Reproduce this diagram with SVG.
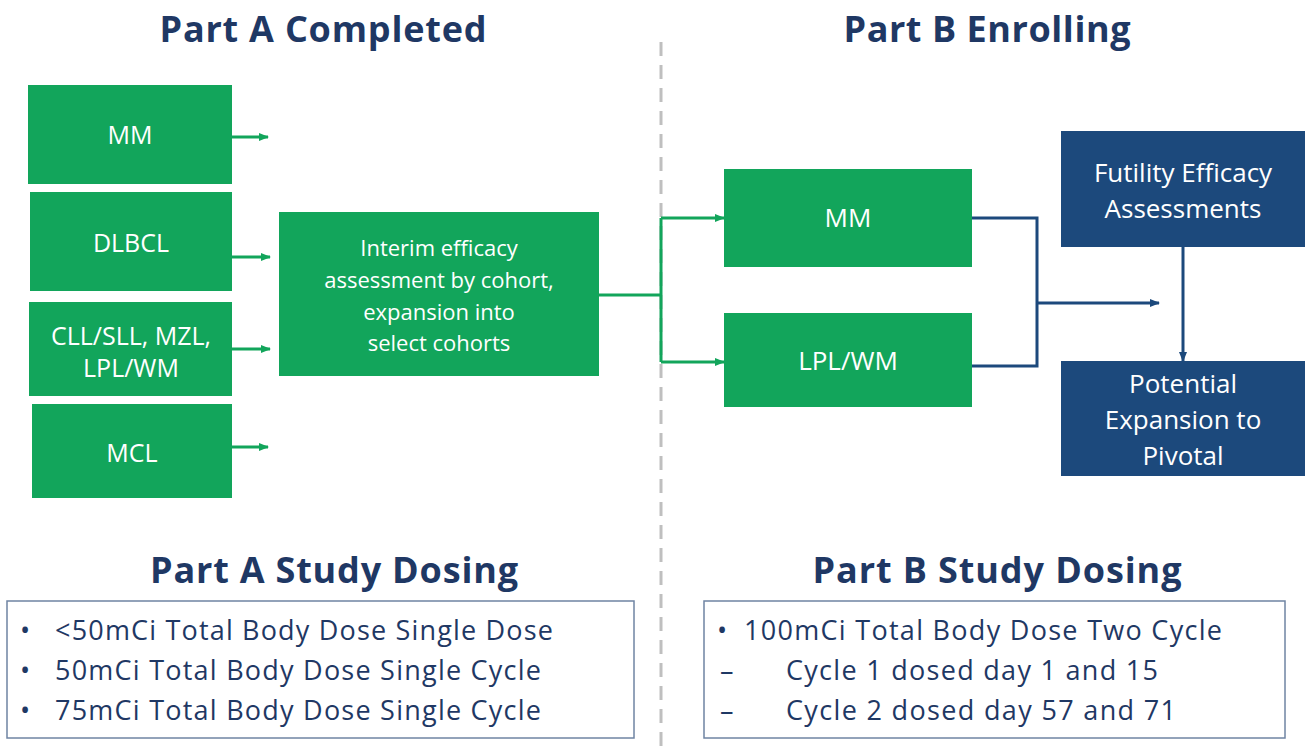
<svg xmlns="http://www.w3.org/2000/svg" width="1306" height="755" viewBox="0 0 1306 755">
<style>
.title{font-family:"Open Sans","Liberation Sans",sans-serif;font-weight:bold;font-size:36px;fill:#1f3864;text-anchor:middle}
.g{fill:#12a55b}
.b{fill:#1c497c}
.t{font-family:"Open Sans","Liberation Sans",sans-serif;fill:#ffffff;text-anchor:middle}
.dose{font-family:"Open Sans","Liberation Sans",sans-serif;font-size:27px;fill:#1f3864}
.gl{stroke:#12a55b;stroke-width:3;fill:none}
.bl{stroke:#1c497c;stroke-width:3;fill:none}
.box{fill:#ffffff;stroke:#6f84a3;stroke-width:1.5}
</style>
<defs>
<marker id="ag" markerWidth="10" markerHeight="10" refX="9" refY="5" orient="auto" markerUnits="userSpaceOnUse"><path d="M0,1 L10,5 L0,9 Z" fill="#12a55b"/></marker>
<marker id="ab" markerWidth="10" markerHeight="10" refX="9" refY="5" orient="auto" markerUnits="userSpaceOnUse"><path d="M0,1 L10,5 L0,9 Z" fill="#1c497c"/></marker>
</defs>
<rect width="1306" height="755" fill="#ffffff"/>
<line x1="661" y1="42" x2="661" y2="755" stroke="#bfbfbf" stroke-width="3" stroke-dasharray="14,9"/>
<text class="title" x="323" y="42" textLength="327">Part A Completed</text>
<text class="title" x="987" y="42" textLength="287">Part B Enrolling</text>
<text class="title" x="334" y="583" textLength="368">Part A Study Dosing</text>
<text class="title" x="997" y="583" textLength="369">Part B Study Dosing</text>

<g id="connectors">
<line class="gl" x1="232" y1="137" x2="268" y2="137" marker-end="url(#ag)"/>
<line class="gl" x1="232" y1="257" x2="270" y2="257" marker-end="url(#ag)"/>
<line class="gl" x1="232" y1="349" x2="270" y2="349" marker-end="url(#ag)"/>
<line class="gl" x1="232" y1="447" x2="268" y2="447" marker-end="url(#ag)"/>
<polyline class="gl" points="599,295 661,295"/>
<polyline class="gl" points="661,218 661,362"/>
<line class="gl" x1="661" y1="218" x2="724" y2="218" marker-end="url(#ag)"/>
<line class="gl" x1="661" y1="362" x2="724" y2="362" marker-end="url(#ag)"/>
<polyline class="bl" points="972,218 1037,218 1037,366 972,366"/>
<line class="bl" x1="1037" y1="303" x2="1159" y2="303" marker-end="url(#ab)"/>
<line class="bl" x1="1183" y1="247" x2="1183" y2="361" marker-end="url(#ab)"/>
</g>

<g id="a-mm"><rect class="g" x="28" y="85" width="204" height="99"/><text class="t" x="130" y="144" font-size="25">MM</text></g>
<g id="a-dlbcl"><rect class="g" x="30" y="192" width="202" height="99"/><text class="t" x="131" y="252" font-size="25">DLBCL</text></g>
<g id="a-cll"><rect class="g" x="29" y="302" width="203" height="94"/><text class="t" x="131" y="345" font-size="25">CLL/SLL, MZL,</text><text class="t" x="131" y="377" font-size="25">LPL/WM</text></g>
<g id="a-mcl"><rect class="g" x="32" y="404" width="200" height="94"/><text class="t" x="132" y="462" font-size="25">MCL</text></g>
<g id="interim"><rect class="g" x="279" y="212" width="320" height="164"/>
<text class="t" x="439" y="256" font-size="22">Interim efficacy</text>
<text class="t" x="439" y="288" font-size="22">assessment by cohort,</text>
<text class="t" x="439" y="320" font-size="22">expansion into</text>
<text class="t" x="439" y="351" font-size="22">select cohorts</text></g>
<g id="b-mm"><rect class="g" x="724" y="169" width="248" height="98"/><text class="t" x="848" y="227" font-size="26">MM</text></g>
<g id="b-lpl"><rect class="g" x="724" y="313" width="248" height="94"/><text class="t" x="848" y="370" font-size="26">LPL/WM</text></g>
<g id="futility"><rect class="b" x="1061" y="131" width="244" height="116"/>
<text class="t" x="1183" y="182" font-size="26">Futility Efficacy</text>
<text class="t" x="1183" y="218" font-size="26">Assessments</text></g>
<g id="potential"><rect class="b" x="1061" y="361" width="244" height="115"/>
<text class="t" x="1183" y="393" font-size="26">Potential</text>
<text class="t" x="1183" y="429" font-size="26">Expansion to</text>
<text class="t" x="1183" y="465" font-size="26">Pivotal</text></g>

<g id="dosing-a"><rect class="box" x="7" y="601" width="627" height="137"/>
<text class="dose" x="20" y="640">•</text><text class="dose" x="55" y="640" textLength="498">&lt;50mCi Total Body Dose Single Dose</text>
<text class="dose" x="20" y="680">•</text><text class="dose" x="55" y="680" textLength="486">50mCi Total Body Dose Single Cycle</text>
<text class="dose" x="20" y="720">•</text><text class="dose" x="55" y="720" textLength="486">75mCi Total Body Dose Single Cycle</text></g>
<g id="dosing-b"><rect class="box" x="704" y="601" width="581" height="137"/>
<text class="dose" x="717" y="640">•</text><text class="dose" x="744" y="640" textLength="478">100mCi Total Body Dose Two Cycle</text>
<text class="dose" x="720" y="680">–</text><text class="dose" x="786" y="680" textLength="372">Cycle 1 dosed day 1 and 15</text>
<text class="dose" x="720" y="720">–</text><text class="dose" x="786" y="720" textLength="390">Cycle 2 dosed day 57 and 71</text></g>
</svg>
